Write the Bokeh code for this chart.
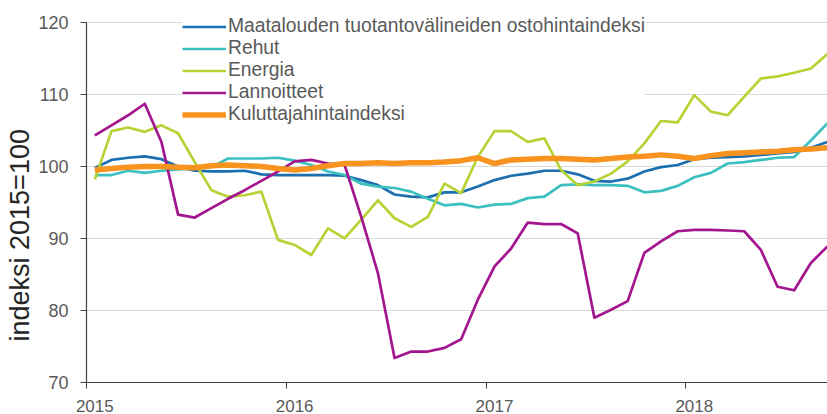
from bokeh.plotting import figure
from bokeh.models import FixedTicker, Legend, LegendItem, Range1d, Title
from bokeh.embed import file_html
from bokeh.resources import INLINE

# Monthly data, Jan 2015 .. Sep 2018 (45 months)
n_months = 45
years = ["2015", "2016", "2017", "2018"]

maatalous = [99.8, 100.9, 101.2, 101.4, 101.0, 100.0, 99.4, 99.3, 99.3, 99.4, 98.9, 98.8,
             98.8, 98.8, 98.8, 98.7, 98.1, 97.4, 96.1, 95.8, 95.7, 96.4, 96.4, 97.2,
             98.1, 98.7, 99.0, 99.4, 99.4, 98.9, 98.0, 97.9, 98.3, 99.3, 99.9, 100.2,
             101.0, 101.2, 101.3, 101.4, 101.6, 101.8, 102.0, 102.6, 103.4]
rehut = [98.8, 98.8, 99.4, 99.1, 99.4, 99.6, 99.7, 99.9, 101.1, 101.1, 101.1, 101.2,
         100.8, 100.2, 99.3, 98.8, 97.6, 97.2, 97.0, 96.5, 95.5, 94.6, 94.8, 94.3,
         94.7, 94.8, 95.6, 95.8, 97.4, 97.5, 97.4, 97.4, 97.3, 96.4, 96.6, 97.3,
         98.5, 99.1, 100.4, 100.6, 100.9, 101.2, 101.3, 103.6, 106.0]
energia = [98.2, 104.9, 105.4, 104.8, 105.7, 104.6, 100.6, 96.7, 95.8, 96.0, 96.5, 89.8,
           89.1, 87.7, 91.4, 90.0, 92.6, 95.3, 92.8, 91.6, 93.0, 97.6, 96.3, 101.3,
           104.9, 104.9, 103.4, 103.9, 99.5, 97.4, 97.9, 99.0, 100.7, 103.2, 106.3, 106.1,
           109.9, 107.6, 107.1, 109.7, 112.2, 112.5, 113.0, 113.6, 115.6]
lannoitteet = [104.3, 105.7, 107.1, 108.7, 103.4, 93.3, 92.9, 94.2, 95.5, 96.7, 98.0, 99.3,
               100.7, 100.9, 100.4, 100.2, 93.0, 85.2, 73.4, 74.3, 74.3, 74.8, 76.0, 81.5,
               86.1, 88.6, 92.2, 92.0, 92.0, 90.7, 79.0, 80.1, 81.3, 88.0, 89.6, 91.0,
               91.2, 91.2, 91.1, 91.0, 88.4, 83.3, 82.8, 86.6, 88.9]
kuluttaja = [99.5, 99.7, 99.9, 100.0, 100.0, 99.9, 99.8, 100.1, 100.2, 100.1, 100.0, 99.7,
             99.5, 99.7, 100.1, 100.4, 100.4, 100.5, 100.4, 100.5, 100.5, 100.6, 100.8, 101.2,
             100.4, 100.9, 101.0, 101.1, 101.1, 101.0, 100.9, 101.1, 101.3, 101.4, 101.6, 101.4,
             101.1, 101.5, 101.8, 101.9, 102.0, 102.1, 102.3, 102.4, 102.6]

series_names = ["Maatalouden tuotantovälineiden ostohintaindeksi", "Rehut", "Energia",
                "Lannoitteet", "Kuluttajahintaindeksi"]
series_values = [maatalous, rehut, energia, lannoitteet, kuluttaja]
series_colors = ["#1b6fae", "#3cc0bf", "#b6d335", "#a3168e", "#f7931e"]
series_widths = [2.7, 2.7, 2.7, 2.7, 5.5]

y_ticks = [70, 80, 90, 100, 110, 120]
y_label = "indeksi 2015=100"

x = [m + 0.5 for m in range(n_months)]   # mid-month positions
year_starts = [12 * k for k in range(len(years))]
year_label_pos = [s + 0.5 for s in year_starts]

FONT = "Liberation Sans"

# frame spans y = 6 .. 383 px; 120 sits at y = 22 px (7.22 px per unit)
p = figure(width=827, height=414, output_backend="svg", toolbar_location=None,
           x_range=Range1d(0, n_months - 0.5), y_range=Range1d(70, 122.2),
           min_border_left=86, min_border_right=0, min_border_top=6, min_border_bottom=31)
p.outline_line_color = None
p.background_fill_color = "white"
p.border_fill_color = "white"

renderers = []
for vals, col, w in zip(series_values, series_colors, series_widths):
    r = p.line(x, vals, line_color=col, line_width=w, line_join="round")
    renderers.append(r)

# grid
p.xgrid.visible = False
p.ygrid.ticker = FixedTicker(ticks=y_ticks)
p.ygrid.grid_line_color = "#d9d9d9"
p.ygrid.grid_line_width = 1

# y axis
yax = p.yaxis[0]
yax.ticker = FixedTicker(ticks=y_ticks)
yax.bounds = (y_ticks[0], y_ticks[-1])
yax.axis_line_color = "#404040"
yax.axis_line_width = 1.2
yax.major_tick_line_color = "#404040"
yax.major_tick_out = 6
yax.major_tick_in = 0
yax.minor_tick_line_color = None
yax.major_label_text_font = FONT
yax.major_label_text_font_size = "18px"
yax.major_label_text_color = "#595959"
yax.major_label_standoff = 12

ytitle = Title(text=y_label, align="left", offset=41, standoff=0, vertical_align="middle",
               text_font=FONT, text_font_size="27px", text_font_style="normal",
               text_color="#262626")
p.add_layout(ytitle, "left")

# x axis
xax = p.xaxis[0]
xax.ticker = FixedTicker(ticks=year_label_pos, minor_ticks=year_starts)
xax.major_label_overrides = {pos: lab for pos, lab in zip(year_label_pos, years)}
xax.axis_line_color = "#404040"
xax.axis_line_width = 1.2
xax.major_tick_line_color = None
xax.major_tick_out = 0
xax.major_tick_in = 0
xax.minor_tick_line_color = "#404040"
xax.minor_tick_out = 6
xax.minor_tick_in = 0
xax.major_label_text_font = FONT
xax.major_label_text_font_size = "17px"
xax.major_label_text_color = "#595959"
xax.major_label_standoff = 11

legend = Legend(items=[LegendItem(label=n, renderers=[r]) for n, r in zip(series_names, renderers)],
                location=(96, 257))
legend.padding = 6
legend.margin = 0
legend.spacing = 0
legend.glyph_width = 44
legend.glyph_height = 21
legend.label_height = 21
legend.label_standoff = 2
legend.label_text_font = FONT
legend.label_text_font_size = "19.3px"
legend.label_text_color = "#595959"
legend.border_line_color = None
legend.background_fill_color = "white"
legend.background_fill_alpha = 1.0
p.add_layout(legend)

open("out.html", "w").write(file_html(p, INLINE))
